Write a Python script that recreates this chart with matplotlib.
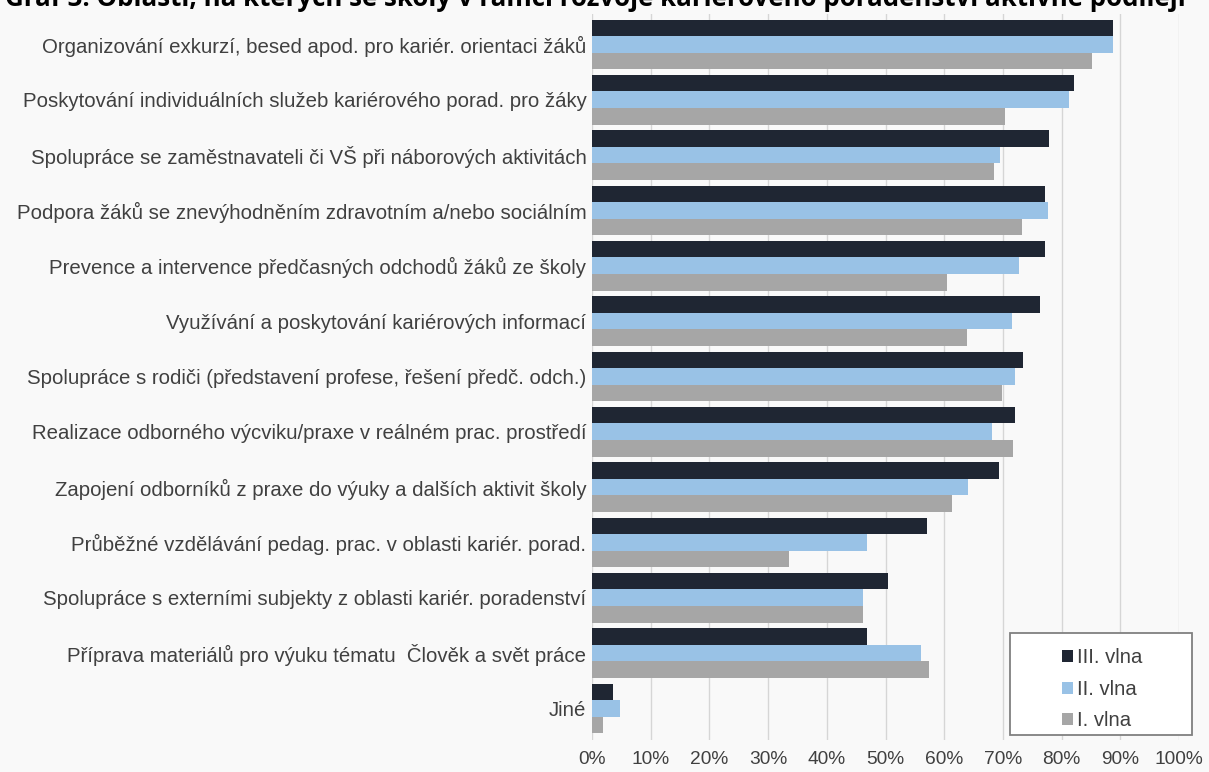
import numpy as np
import matplotlib
matplotlib.use("Agg")
import matplotlib.pyplot as plt
from matplotlib.patches import Rectangle
from matplotlib.ticker import FuncFormatter

# activity areas, top to bottom
categories = [
    "Organizování exkurzí, besed apod. pro kariér. orientaci žáků",
    "Poskytování individuálních služeb kariérového porad. pro žáky",
    "Spolupráce se zaměstnavateli či VŠ při náborových aktivitách",
    "Podpora žáků se znevýhodněním zdravotním a/nebo sociálním",
    "Prevence a intervence předčasných odchodů žáků ze školy",
    "Využívání a poskytování kariérových informací",
    "Spolupráce s rodiči (představení profese, řešení předč. odch.)",
    "Realizace odborného výcviku/praxe v reálném prac. prostředí",
    "Zapojení odborníků z praxe do výuky a dalších aktivit školy",
    "Průběžné vzdělávání pedag. prac. v oblasti kariér. porad.",
    "Spolupráce s externími subjekty z oblasti kariér. poradenství",
    "Příprava materiálů pro výuku tématu  Člověk a svět práce",
    "Jiné",
]

# percent of schools, per wave
wave3 = [88.7, 82.1, 77.8, 77.2, 77.2, 76.4, 73.4, 72.0, 69.3, 57.0, 50.5, 46.8, 3.6]
wave2 = [88.7, 81.2, 69.5, 77.6, 72.8, 71.5, 72.1, 68.2, 64.0, 46.9, 46.2, 56.0, 4.7]
wave1 = [85.1, 70.4, 68.5, 73.2, 60.5, 63.8, 69.9, 71.8, 61.3, 33.6, 46.1, 57.4, 1.8]

series = [("III. vlna", wave3, "#1f2633"),
          ("II. vlna", wave2, "#99c2e6"),
          ("I. vlna", wave1, "#a6a6a6")]

title = "Graf 3: Oblasti, na kterých se školy v rámci rozvoje kariérového poradenství aktivně podílejí"

plt.rcParams['font.family'] = ['Liberation Sans', 'DejaVu Sans']

W, H = 1209, 772
fig = plt.figure(figsize=(W / 100, H / 100), dpi=100, facecolor="#f9f9f9")
ax = fig.add_axes([592 / W, 1 - 740 / H, (1179 - 592) / W, 726 / H])
ax.set_facecolor("#f9f9f9")

y = np.arange(len(categories))
h = 0.3
for i, (name, vals, col) in enumerate(series):
    ax.barh(y + (i - 1) * h, vals, height=h, color=col, label=name, zorder=3)

ax.set_xlim(0, 100)
ax.set_ylim(12.57, -0.55)
ax.set_xticks(np.arange(0, 101, 10))
ax.xaxis.set_major_formatter(FuncFormatter(lambda v, p: f"{v:.0f}%"))
ax.set_yticks(y)
ax.set_yticklabels(categories)
ax.tick_params(axis='y', length=0, labelsize=14.7, labelcolor="#404040", pad=4)
ax.tick_params(axis='x', length=0, labelsize=13.8, labelcolor="#404040", pad=8)
ax.grid(axis='x', color="#d6d6d6", linewidth=1, zorder=0)
for s in ax.spines.values():
    s.set_visible(False)

# legend box drawn separately, entries placed inside it
box = Rectangle((1010 / W, 1 - 735 / H), 182 / W, 102 / H, transform=fig.transFigure,
                facecolor="white", edgecolor="#808080", linewidth=1.3, zorder=4)
fig.patches.append(box)
leg = fig.legend(loc='upper left', bbox_to_anchor=(1046 / W, 1 - 632 / H), frameon=False,
                 fontsize=14.6, handlelength=0.55, handleheight=0.55,
                 handletextpad=0.2, labelspacing=0.62, borderpad=0.3)
leg.set_zorder(5)
for t in leg.get_texts():
    t.set_color("#404040")

# title sits mostly above the crop, as in the source image
fig.text(5 / W, 1 - 6 / H, title, fontsize=18.6, fontweight='bold',
         family=['Open Sans', 'DejaVu Sans'], va='baseline', ha='left', color='black')

fig.savefig("out.png", dpi=100, facecolor=fig.get_facecolor())
